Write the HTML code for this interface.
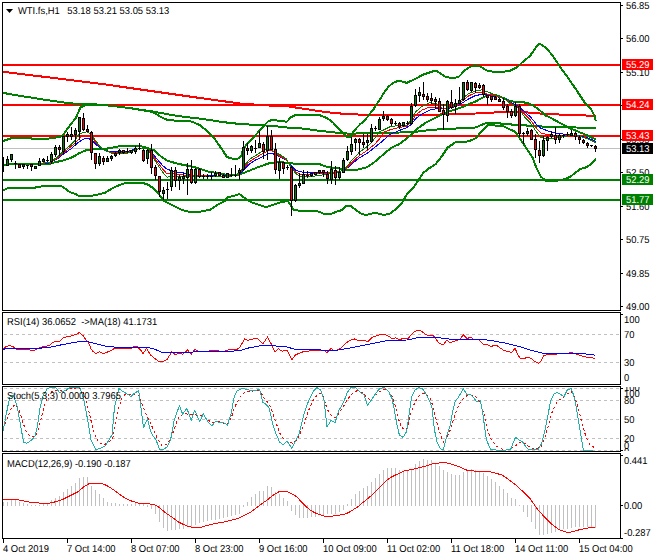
<!DOCTYPE html>
<html><head><meta charset="utf-8"><title>WTI.fs,H1</title>
<style>html,body{margin:0;padding:0;background:#fff;}svg{display:block}text{font-family:"Liberation Sans",sans-serif;font-size:10.0px;fill:#000;text-rendering:geometricPrecision}.w{fill:#fff}</style></head><body>
<svg width="660" height="560" viewBox="0 0 660 560">
<rect width="660" height="560" fill="#fff"/>
<defs><clipPath id="cm"><rect x="3" y="3" width="617" height="307"/></clipPath><clipPath id="cr"><rect x="3" y="313" width="617" height="71"/></clipPath><clipPath id="cs"><rect x="3" y="387" width="617" height="64"/></clipPath><clipPath id="cd"><rect x="3" y="454" width="617" height="84"/></clipPath><clipPath id="ca"><rect x="621" y="387" width="39" height="64"/></clipPath></defs>
<g clip-path="url(#cm)">
<g shape-rendering="crispEdges">
<rect x="3" y="148" width="617" height="1" fill="#c0c0c0"/>
<rect x="3" y="64" width="617" height="2" fill="#ff0000"/>
<rect x="3" y="104" width="617" height="2" fill="#ff0000"/>
<rect x="3" y="135" width="617" height="2" fill="#ff0000"/>
<rect x="3" y="179" width="617" height="2" fill="#008000"/>
<rect x="3" y="199" width="617" height="2" fill="#008000"/>
</g>
<polyline points="3,92.9 20,95.8 40,99 60,102 75,103.8 84,104.4 104,105 128.5,107.9 152.7,111.5 177,115.9 201,118.8 225.5,122.4 240,124 264.7,125.4 276.8,126.4 288,127.6 303,128.6 318,130.6 333.5,132.4 348.6,133.6 380,133.2 414,132 430,130 445,129 460,128.3 472,127.8 476,127.4 480,125.5 485,123.5 490,122.8 496,123 503,123.8 515,124.8 528,125.6 537,126.3 550,126.8 576,127.5 595.8,128" fill="none" stroke="#008000" stroke-width="2" stroke-linejoin="round" stroke-linecap="butt" shape-rendering="crispEdges"/>
<polyline points="3,71.8 80,81.2 100,83.7 160,92.3 200,98 240,103.5 265,105.3 288,106.4 303,108.6 318,111 333.5,112.9 348.6,114.2 363.8,114.7 388,115.2 440,114.5 476,113.5 491,112.9 498.7,111.9 521.5,112 544,113.8 561,114.6 582,115.3 595.8,116" fill="none" stroke="#ff0000" stroke-width="2" stroke-linejoin="round" stroke-linecap="butt" shape-rendering="crispEdges"/>
<polyline points="3,141 9,139 12,138 30,138 33,139 48,139 50,138 56,137.5 60,137 63,135.3 66.7,129.7 71.2,123.6 75.8,118.3 78,113 80.3,107.7 84.8,105.3 89.7,104 104,105 128.5,107.9 152.7,112 160,116.4 167.3,120 177,120.7 186.7,120.9 192,121.6 199.6,125 207,131 214.7,138.8 222,149.4 227,157 232,158.6 237.5,158.8 241,156.5 243.5,148.5 248.5,142.3 254.8,136 261,129 266,123.5 268.5,121 273.5,119.8 282,121.4 287,121.6 291,117.3 295.6,115 318.3,114.7 327.4,118.2 333.5,123 339.5,129.8 343,133 346,136.5 348,137.5 350.5,137.3 352,135 353.8,131 360,124.4 365,120 370,113.8 373.8,108.8 377.5,103 380.5,98.5 384,92.7 388.5,86.7 393,82.9 399,80.6 406.7,82.9 414.3,79.4 423.4,74.5 432.5,71.5 437,71.2 441.6,74.2 446,77.3 453.5,77.9 458.5,77 461.5,74 464.5,70.4 470,66.8 475.5,65.5 481,66.8 486.4,70.4 494.5,72 502.7,72 511,70.4 517.7,66.8 521.8,62.7 530,56 535.5,48 539.5,43.6 545,47 551.8,54.5 560,66.8 568,77.7 576.4,90 584.5,102.3 591,108.8 593.4,113.7 595,117.7 595.8,121" fill="none" stroke="#008000" stroke-width="2" stroke-linejoin="round" stroke-linecap="butt" shape-rendering="crispEdges"/>
<polyline points="3,190.5 9,187.7 35,187.7 36.5,186.7 48.5,186.2 50,185.5 60.6,185.5 65,188.5 69.7,192 75.8,194.2 78.8,195.8 91,195.8 96,195 105,192.7 114,187.4 123,183.6 127,183 140,183 144,183.4 147.3,184.2 154.5,189 159.4,195 164.2,201.2 171.5,204.8 181.2,209.7 188.5,211.6 200.6,211.6 210.3,209.7 217.6,204.8 224.8,201.2 227.3,197.6 237,195 239.4,194 244.2,197.6 251.5,202.4 258.8,204.8 266,207.3 273.3,204.8 280.6,202.4 287.9,200.9 291,206 294,210 303,211.2 318.3,211.5 324.4,214 332,213.5 338,211.2 342.5,210 345.6,206 350,205.5 354.7,209 360.7,213.5 365.3,215 369.8,214.2 374.4,212.7 380.4,214.2 384,215 390,213.5 396,209 402,203 406.7,194.5 412.8,188.5 418.8,179.4 423.4,172.6 429.5,168 435.5,164.2 441.6,156.7 447.6,147.6 455.2,142.5 461.3,142.3 467.3,141.5 472,140 476,138 482,130.6 485,127.6 488,125.3 492,125 496,125.6 503.5,126.3 508.5,128.8 514.8,131.5 518.5,136.3 523.5,143.8 528.5,151.3 533,158.5 536.6,168.5 541,176.8 545.7,180.6 551.8,181.4 559.6,180.2 566,178.8 571,176.3 575.7,172.3 580.5,169 585.4,167.5 590.2,165 593.4,161.9 595.8,158.7" fill="none" stroke="#008000" stroke-width="2" stroke-linejoin="round" stroke-linecap="butt" shape-rendering="crispEdges"/>
<polyline points="3,165.5 10,164 50,164 52,163 65,160 73,157 79,153.3 85,150.6 91,149.6 104,149 111,148 120,146 130,145.6 140,145.9 147.5,148 153.6,150 161,156.4 167,160.5 175,163 182,164.6 192,166.6 201,169 207,171.4 216,172.9 222,174.4 231.4,174.8 239,174.8 242,173.6 249.6,170.6 257,167.6 264.7,164.8 270.8,162.7 276.8,162.3 283,162.3 289,163.2 292.5,163.5 318,163.5 322.8,165.5 327.4,167 333.5,168 339.5,168.5 342.5,169.5 348.6,170.3 354.7,170.3 360.7,168.8 366.8,167.3 372.8,163.5 379,158.2 385,152.9 391.6,147.6 399,144.3 406.7,138.6 414.3,132 418.8,127.6 426.4,122.3 434,118.5 440,115.5 444.6,113.2 450.7,111 456.7,109 462.8,107 468.8,104 475,101.8 482,98 488,95 495.7,95 503.3,98 509.3,101 515.4,101.8 521.5,102 527.5,103 533.6,105.6 539.6,110.2 545.7,115.5 551.8,118.5 559.6,122.7 569.3,128 579,132 585.4,134.6 595.8,139.4" fill="none" stroke="#008000" stroke-width="2" stroke-linejoin="round" stroke-linecap="butt" shape-rendering="crispEdges"/>
<polyline points="3.8,165.5 9,163.6 36,164 50,162.9 57.6,158.6 63.6,154 71,148.8 78.8,142 84.8,138.5 87.9,138.2 91,139.7 95.5,144.2 100.5,148 105,150 111,151.8 119,152 126,151.8 134,149.5 140,148.8 147.5,149 152,152.6 156.6,158.6 162.7,165.5 167,169.2 171.8,170.8 177.8,172.3 187,173.3 192,175.2 201,175.5 211.7,175.9 222,176.2 231.4,175.5 239,174.4 243.5,169.8 249.6,163.8 255.6,160 261.7,157 267.8,154 271.5,153.2 275.3,154.7 279.9,157 286,160 291,165 295.6,170.3 303,172.3 312,172.6 318.3,172.6 327.4,173 335,172 341,171 345.6,169.5 351.6,164.2 358.8,158.2 366.8,153.6 374.4,147.6 382,141.5 390,134.4 399,130.6 406.7,127.6 411.3,124.5 415.8,118.5 421.9,114 429.5,110.2 437,108.6 444.6,108.6 450.7,107.9 456.7,106.4 462.8,102.6 468.8,98.8 475,95.8 482,94.2 488,95 495.7,96.5 503.3,98 510.8,102.6 518.4,106.4 524.5,111.7 530.5,117 536.6,124.5 541,128.3 547,130.6 554.8,132.9 563.9,134.2 569.3,134.6 579,135.7 587,137.8 593.4,140.2 595.8,141.5" fill="none" stroke="#0000ff" stroke-width="1" stroke-linejoin="round" stroke-linecap="butt" shape-rendering="crispEdges"/>
<polyline points="3.8,165.5 9,163.6 36,164 50,162.5 57.6,157.9 63.6,152.6 71.2,146.5 77.3,140.5 81.8,136.4 87,135.2 91,136.7 95.5,142 100.5,147.6 105,150.2 111,152.4 119,153 126,152.7 134,150 140,148.6 147.5,149 152,154 156.6,161 162.7,169.2 167,173.8 171.8,173 177.8,174.5 187,175.3 196,175.3 211.7,176.3 222,176.5 231.4,175.7 239,174 243.5,168.3 249.6,161.5 255.6,157.7 261.7,154.2 267.8,151 271.5,150.2 275.3,153.2 279.9,156.2 286,159.2 291,166.5 295.6,172 300,174 307.7,174.5 318.3,173.3 327.4,173 335,172.6 341,171 345.6,168.8 351.6,162.7 358.8,156 366.8,150.6 374.4,144.5 379,139.5 384,132 390,129.8 399,127.6 406.7,126 411.3,122.3 415.8,114.7 421.9,110.2 429.5,107 437,107 444.6,108.6 450.7,107 456.7,105.6 462.8,100.3 468.8,95.8 475,93 482,92.7 488,94.2 495.7,96 503.3,98 510.8,103.3 518.4,107 524.5,114 530.5,120 536.6,128.3 541,132.9 547,134.4 554.8,135.2 563.9,135.2 570,134.6 579,135.9 587,138.5 595.8,142.5" fill="none" stroke="#ff0000" stroke-width="1" stroke-linejoin="round" stroke-linecap="butt" shape-rendering="crispEdges"/>
<polyline points="3.8,165.5 9,163.6 36,164 50,162 57.6,157 63.6,151 69.7,145.8 74.2,141.2 78.8,134.4 82.6,132.9 87,131.8 91,134.4 95.5,140.5 100.5,147.3 105,150.3 111,153 119,154 126,153.6 134,150.3 140,148.5 147.5,148.8 152,155.6 156.6,163.2 162.7,172.3 167,177.3 171.8,176 177.8,176 187,176.4 196,176 211.7,176.8 222,176.8 231.4,176 239,173.5 243.5,166.8 249.6,159.2 255.6,155.5 261.7,151.7 267.8,148.6 271.5,149.7 275.3,152.4 279.9,154.7 286,158.5 291,167.3 295.6,173.3 300,176.4 307.7,177 318.3,175.6 327.4,174 335,173 341,171 345.6,168 351.6,160.5 358.8,152.9 366.8,146.8 371.3,143 379,132 384,129.8 390,126.8 399,125.3 406.7,125.3 411.3,120 415.8,111.7 421.9,106.4 429.5,102.6 437,104 441.6,105.6 450.7,106.4 456.7,104 462.8,98 468.8,93.5 475,91.2 482,89.7 488,92 495.7,95 503.3,98 510.8,104 518.4,107.9 524.5,117 530.5,123 536.6,132 541,137.4 547,139 554.8,138.2 563.9,136.7 570,135.2 579,136 587,138.6 595.8,142.6" fill="none" stroke="#008000" stroke-width="1" stroke-linejoin="round" stroke-linecap="butt" shape-rendering="crispEdges"/>
<g shape-rendering="crispEdges">
<rect x="3" y="157" width="1" height="15" fill="#000"/>
<rect x="7" y="156" width="1" height="10" fill="#000"/>
<rect x="6" y="159" width="3" height="7" fill="#000"/>
<rect x="7" y="160" width="1" height="5" fill="#008000"/>
<rect x="11" y="154" width="1" height="8" fill="#000"/>
<rect x="10" y="154" width="3" height="6" fill="#000"/>
<rect x="11" y="155" width="1" height="4" fill="#008000"/>
<rect x="15" y="161" width="1" height="8" fill="#000"/>
<rect x="14" y="163" width="3" height="1" fill="#000"/>
<rect x="19" y="164" width="1" height="4" fill="#000"/>
<rect x="18" y="164" width="3" height="4" fill="#000"/>
<rect x="19" y="165" width="1" height="2" fill="#ff0000"/>
<rect x="23" y="164" width="1" height="5" fill="#000"/>
<rect x="22" y="164" width="3" height="3" fill="#000"/>
<rect x="23" y="165" width="1" height="1" fill="#008000"/>
<rect x="27" y="165" width="1" height="4" fill="#000"/>
<rect x="26" y="165" width="3" height="1" fill="#000"/>
<rect x="31" y="164" width="1" height="7" fill="#000"/>
<rect x="30" y="164" width="3" height="3" fill="#000"/>
<rect x="31" y="165" width="1" height="1" fill="#ff0000"/>
<rect x="35" y="166" width="1" height="3" fill="#000"/>
<rect x="34" y="166" width="3" height="3" fill="#000"/>
<rect x="35" y="167" width="1" height="1" fill="#008000"/>
<rect x="39" y="158" width="1" height="8" fill="#000"/>
<rect x="38" y="161" width="3" height="5" fill="#000"/>
<rect x="39" y="162" width="1" height="3" fill="#008000"/>
<rect x="43" y="158" width="1" height="4" fill="#000"/>
<rect x="42" y="159" width="3" height="3" fill="#000"/>
<rect x="43" y="160" width="1" height="1" fill="#008000"/>
<rect x="47" y="156" width="1" height="6" fill="#000"/>
<rect x="46" y="160" width="3" height="1" fill="#000"/>
<rect x="51" y="152" width="1" height="12" fill="#000"/>
<rect x="50" y="154" width="3" height="8" fill="#000"/>
<rect x="51" y="155" width="1" height="6" fill="#008000"/>
<rect x="55" y="145" width="1" height="12" fill="#000"/>
<rect x="54" y="147" width="3" height="8" fill="#000"/>
<rect x="55" y="148" width="1" height="6" fill="#008000"/>
<rect x="59" y="145" width="1" height="11" fill="#000"/>
<rect x="58" y="147" width="3" height="3" fill="#000"/>
<rect x="59" y="148" width="1" height="1" fill="#ff0000"/>
<rect x="63" y="136" width="1" height="18" fill="#000"/>
<rect x="62" y="136" width="3" height="16" fill="#000"/>
<rect x="63" y="137" width="1" height="14" fill="#008000"/>
<rect x="67" y="132" width="1" height="10" fill="#000"/>
<rect x="66" y="134" width="3" height="3" fill="#000"/>
<rect x="67" y="135" width="1" height="1" fill="#008000"/>
<rect x="71" y="127" width="1" height="13" fill="#000"/>
<rect x="70" y="134" width="3" height="3" fill="#000"/>
<rect x="71" y="135" width="1" height="1" fill="#008000"/>
<rect x="75" y="128" width="1" height="18" fill="#000"/>
<rect x="74" y="130" width="3" height="5" fill="#000"/>
<rect x="75" y="131" width="1" height="3" fill="#008000"/>
<rect x="79" y="117" width="1" height="23" fill="#000"/>
<rect x="78" y="117" width="3" height="15" fill="#000"/>
<rect x="79" y="118" width="1" height="13" fill="#008000"/>
<rect x="83" y="113" width="1" height="18" fill="#000"/>
<rect x="82" y="118" width="3" height="12" fill="#000"/>
<rect x="83" y="119" width="1" height="10" fill="#ff0000"/>
<rect x="87" y="125" width="1" height="7" fill="#000"/>
<rect x="86" y="129" width="3" height="3" fill="#000"/>
<rect x="87" y="130" width="1" height="1" fill="#ff0000"/>
<rect x="91" y="131" width="1" height="29" fill="#000"/>
<rect x="90" y="132" width="3" height="21" fill="#000"/>
<rect x="91" y="133" width="1" height="19" fill="#ff0000"/>
<rect x="95" y="153" width="1" height="16" fill="#000"/>
<rect x="94" y="153" width="3" height="11" fill="#000"/>
<rect x="95" y="154" width="1" height="9" fill="#ff0000"/>
<rect x="99" y="153" width="1" height="13" fill="#000"/>
<rect x="98" y="156" width="3" height="8" fill="#000"/>
<rect x="99" y="157" width="1" height="6" fill="#008000"/>
<rect x="103" y="156" width="1" height="9" fill="#000"/>
<rect x="102" y="158" width="3" height="4" fill="#000"/>
<rect x="103" y="159" width="1" height="2" fill="#ff0000"/>
<rect x="107" y="156" width="1" height="6" fill="#000"/>
<rect x="106" y="158" width="3" height="4" fill="#000"/>
<rect x="107" y="159" width="1" height="2" fill="#008000"/>
<rect x="111" y="155" width="1" height="6" fill="#000"/>
<rect x="110" y="156" width="3" height="3" fill="#000"/>
<rect x="111" y="157" width="1" height="1" fill="#008000"/>
<rect x="115" y="152" width="1" height="5" fill="#000"/>
<rect x="114" y="153" width="3" height="3" fill="#000"/>
<rect x="115" y="154" width="1" height="1" fill="#008000"/>
<rect x="119" y="149" width="1" height="6" fill="#000"/>
<rect x="118" y="150" width="3" height="3" fill="#000"/>
<rect x="119" y="151" width="1" height="1" fill="#008000"/>
<rect x="123" y="150" width="1" height="4" fill="#000"/>
<rect x="122" y="150" width="3" height="3" fill="#000"/>
<rect x="123" y="151" width="1" height="1" fill="#ff0000"/>
<rect x="127" y="148" width="1" height="5" fill="#000"/>
<rect x="126" y="151" width="3" height="1" fill="#000"/>
<rect x="131" y="150" width="1" height="4" fill="#000"/>
<rect x="130" y="150" width="3" height="3" fill="#000"/>
<rect x="131" y="151" width="1" height="1" fill="#008000"/>
<rect x="135" y="146" width="1" height="8" fill="#000"/>
<rect x="134" y="148" width="3" height="4" fill="#000"/>
<rect x="135" y="149" width="1" height="2" fill="#008000"/>
<rect x="139" y="143" width="1" height="7" fill="#000"/>
<rect x="138" y="148" width="3" height="1" fill="#000"/>
<rect x="143" y="149" width="1" height="13" fill="#000"/>
<rect x="142" y="150" width="3" height="11" fill="#000"/>
<rect x="143" y="151" width="1" height="9" fill="#ff0000"/>
<rect x="147" y="149" width="1" height="15" fill="#000"/>
<rect x="146" y="150" width="3" height="9" fill="#000"/>
<rect x="147" y="151" width="1" height="7" fill="#008000"/>
<rect x="151" y="144" width="1" height="30" fill="#000"/>
<rect x="150" y="150" width="3" height="18" fill="#000"/>
<rect x="151" y="151" width="1" height="16" fill="#ff0000"/>
<rect x="155" y="165" width="1" height="15" fill="#000"/>
<rect x="154" y="167" width="3" height="9" fill="#000"/>
<rect x="155" y="168" width="1" height="7" fill="#ff0000"/>
<rect x="159" y="176" width="1" height="21" fill="#000"/>
<rect x="158" y="176" width="3" height="16" fill="#000"/>
<rect x="159" y="177" width="1" height="14" fill="#ff0000"/>
<rect x="163" y="187" width="1" height="13" fill="#000"/>
<rect x="162" y="190" width="3" height="4" fill="#000"/>
<rect x="163" y="191" width="1" height="2" fill="#008000"/>
<rect x="167" y="182" width="1" height="17" fill="#000"/>
<rect x="166" y="189" width="3" height="1" fill="#000"/>
<rect x="171" y="167" width="1" height="24" fill="#000"/>
<rect x="170" y="170" width="3" height="17" fill="#000"/>
<rect x="171" y="171" width="1" height="15" fill="#008000"/>
<rect x="175" y="167" width="1" height="20" fill="#000"/>
<rect x="174" y="170" width="3" height="11" fill="#000"/>
<rect x="175" y="171" width="1" height="9" fill="#ff0000"/>
<rect x="179" y="175" width="1" height="15" fill="#000"/>
<rect x="178" y="177" width="3" height="4" fill="#000"/>
<rect x="179" y="178" width="1" height="2" fill="#008000"/>
<rect x="183" y="173" width="1" height="11" fill="#000"/>
<rect x="182" y="176" width="3" height="3" fill="#000"/>
<rect x="183" y="177" width="1" height="1" fill="#008000"/>
<rect x="187" y="163" width="1" height="32" fill="#000"/>
<rect x="186" y="169" width="3" height="9" fill="#000"/>
<rect x="187" y="170" width="1" height="7" fill="#008000"/>
<rect x="191" y="160" width="1" height="24" fill="#000"/>
<rect x="190" y="169" width="3" height="14" fill="#000"/>
<rect x="191" y="170" width="1" height="12" fill="#ff0000"/>
<rect x="195" y="168" width="1" height="16" fill="#000"/>
<rect x="194" y="169" width="3" height="14" fill="#000"/>
<rect x="195" y="170" width="1" height="12" fill="#008000"/>
<rect x="199" y="168" width="1" height="10" fill="#000"/>
<rect x="198" y="169" width="3" height="8" fill="#000"/>
<rect x="199" y="170" width="1" height="6" fill="#ff0000"/>
<rect x="203" y="174" width="1" height="5" fill="#000"/>
<rect x="202" y="176" width="3" height="1" fill="#000"/>
<rect x="207" y="174" width="1" height="5" fill="#000"/>
<rect x="206" y="176" width="3" height="1" fill="#000"/>
<rect x="211" y="172" width="1" height="8" fill="#000"/>
<rect x="210" y="176" width="3" height="1" fill="#000"/>
<rect x="215" y="171" width="1" height="6" fill="#000"/>
<rect x="214" y="173" width="3" height="3" fill="#000"/>
<rect x="215" y="174" width="1" height="1" fill="#008000"/>
<rect x="219" y="172" width="1" height="4" fill="#000"/>
<rect x="218" y="172" width="3" height="4" fill="#000"/>
<rect x="219" y="173" width="1" height="2" fill="#ff0000"/>
<rect x="223" y="174" width="1" height="4" fill="#000"/>
<rect x="222" y="175" width="3" height="3" fill="#000"/>
<rect x="223" y="176" width="1" height="1" fill="#ff0000"/>
<rect x="227" y="173" width="1" height="5" fill="#000"/>
<rect x="226" y="173" width="3" height="5" fill="#000"/>
<rect x="227" y="174" width="1" height="3" fill="#008000"/>
<rect x="231" y="168" width="1" height="9" fill="#000"/>
<rect x="230" y="175" width="3" height="1" fill="#000"/>
<rect x="235" y="165" width="1" height="12" fill="#000"/>
<rect x="234" y="175" width="3" height="1" fill="#000"/>
<rect x="239" y="168" width="1" height="12" fill="#000"/>
<rect x="238" y="170" width="3" height="3" fill="#000"/>
<rect x="239" y="171" width="1" height="1" fill="#008000"/>
<rect x="243" y="141" width="1" height="30" fill="#000"/>
<rect x="242" y="147" width="3" height="23" fill="#000"/>
<rect x="243" y="148" width="1" height="21" fill="#008000"/>
<rect x="247" y="143" width="1" height="12" fill="#000"/>
<rect x="246" y="148" width="3" height="3" fill="#000"/>
<rect x="247" y="149" width="1" height="1" fill="#ff0000"/>
<rect x="251" y="145" width="1" height="8" fill="#000"/>
<rect x="250" y="146" width="3" height="5" fill="#000"/>
<rect x="251" y="147" width="1" height="3" fill="#008000"/>
<rect x="255" y="140" width="1" height="13" fill="#000"/>
<rect x="254" y="148" width="3" height="1" fill="#000"/>
<rect x="259" y="131" width="1" height="17" fill="#000"/>
<rect x="258" y="143" width="3" height="5" fill="#000"/>
<rect x="259" y="144" width="1" height="3" fill="#008000"/>
<rect x="263" y="142" width="1" height="17" fill="#000"/>
<rect x="262" y="144" width="3" height="8" fill="#000"/>
<rect x="263" y="145" width="1" height="6" fill="#ff0000"/>
<rect x="267" y="126" width="1" height="34" fill="#000"/>
<rect x="266" y="136" width="3" height="15" fill="#000"/>
<rect x="267" y="137" width="1" height="13" fill="#008000"/>
<rect x="271" y="130" width="1" height="20" fill="#000"/>
<rect x="270" y="136" width="3" height="14" fill="#000"/>
<rect x="271" y="137" width="1" height="12" fill="#ff0000"/>
<rect x="275" y="143" width="1" height="31" fill="#000"/>
<rect x="274" y="149" width="3" height="21" fill="#000"/>
<rect x="275" y="150" width="1" height="19" fill="#ff0000"/>
<rect x="279" y="158" width="1" height="21" fill="#000"/>
<rect x="278" y="162" width="3" height="9" fill="#000"/>
<rect x="279" y="163" width="1" height="7" fill="#008000"/>
<rect x="283" y="162" width="1" height="12" fill="#000"/>
<rect x="282" y="162" width="3" height="7" fill="#000"/>
<rect x="283" y="163" width="1" height="5" fill="#ff0000"/>
<rect x="287" y="165" width="1" height="5" fill="#000"/>
<rect x="286" y="167" width="3" height="1" fill="#000"/>
<rect x="291" y="166" width="1" height="50" fill="#000"/>
<rect x="290" y="167" width="3" height="34" fill="#000"/>
<rect x="291" y="168" width="1" height="32" fill="#ff0000"/>
<rect x="295" y="184" width="1" height="18" fill="#000"/>
<rect x="294" y="185" width="3" height="16" fill="#000"/>
<rect x="295" y="186" width="1" height="14" fill="#008000"/>
<rect x="299" y="173" width="1" height="15" fill="#000"/>
<rect x="298" y="183" width="3" height="3" fill="#000"/>
<rect x="299" y="184" width="1" height="1" fill="#008000"/>
<rect x="303" y="170" width="1" height="14" fill="#000"/>
<rect x="302" y="174" width="3" height="10" fill="#000"/>
<rect x="303" y="175" width="1" height="8" fill="#008000"/>
<rect x="307" y="171" width="1" height="7" fill="#000"/>
<rect x="306" y="175" width="3" height="1" fill="#000"/>
<rect x="311" y="173" width="1" height="4" fill="#000"/>
<rect x="310" y="173" width="3" height="3" fill="#000"/>
<rect x="311" y="174" width="1" height="1" fill="#008000"/>
<rect x="315" y="172" width="1" height="3" fill="#000"/>
<rect x="314" y="172" width="3" height="3" fill="#000"/>
<rect x="315" y="173" width="1" height="1" fill="#ff0000"/>
<rect x="319" y="170" width="1" height="4" fill="#000"/>
<rect x="318" y="170" width="3" height="3" fill="#000"/>
<rect x="319" y="171" width="1" height="1" fill="#008000"/>
<rect x="323" y="170" width="1" height="7" fill="#000"/>
<rect x="322" y="170" width="3" height="3" fill="#000"/>
<rect x="323" y="171" width="1" height="1" fill="#ff0000"/>
<rect x="327" y="171" width="1" height="13" fill="#000"/>
<rect x="326" y="174" width="3" height="5" fill="#000"/>
<rect x="327" y="175" width="1" height="3" fill="#ff0000"/>
<rect x="331" y="161" width="1" height="23" fill="#000"/>
<rect x="330" y="169" width="3" height="11" fill="#000"/>
<rect x="331" y="170" width="1" height="9" fill="#008000"/>
<rect x="335" y="166" width="1" height="19" fill="#000"/>
<rect x="334" y="170" width="3" height="8" fill="#000"/>
<rect x="335" y="171" width="1" height="6" fill="#ff0000"/>
<rect x="339" y="167" width="1" height="13" fill="#000"/>
<rect x="338" y="172" width="3" height="6" fill="#000"/>
<rect x="339" y="173" width="1" height="4" fill="#008000"/>
<rect x="343" y="158" width="1" height="15" fill="#000"/>
<rect x="342" y="160" width="3" height="13" fill="#000"/>
<rect x="343" y="161" width="1" height="11" fill="#008000"/>
<rect x="347" y="146" width="1" height="15" fill="#000"/>
<rect x="346" y="151" width="3" height="9" fill="#000"/>
<rect x="347" y="152" width="1" height="7" fill="#008000"/>
<rect x="351" y="137" width="1" height="18" fill="#000"/>
<rect x="350" y="144" width="3" height="8" fill="#000"/>
<rect x="351" y="145" width="1" height="6" fill="#008000"/>
<rect x="355" y="138" width="1" height="13" fill="#000"/>
<rect x="354" y="139" width="3" height="4" fill="#000"/>
<rect x="355" y="140" width="1" height="2" fill="#008000"/>
<rect x="359" y="138" width="1" height="17" fill="#000"/>
<rect x="358" y="139" width="3" height="4" fill="#000"/>
<rect x="359" y="140" width="1" height="2" fill="#ff0000"/>
<rect x="363" y="134" width="1" height="14" fill="#000"/>
<rect x="362" y="142" width="3" height="3" fill="#000"/>
<rect x="363" y="143" width="1" height="1" fill="#ff0000"/>
<rect x="367" y="134" width="1" height="16" fill="#000"/>
<rect x="366" y="140" width="3" height="3" fill="#000"/>
<rect x="367" y="141" width="1" height="1" fill="#008000"/>
<rect x="371" y="124" width="1" height="19" fill="#000"/>
<rect x="370" y="128" width="3" height="14" fill="#000"/>
<rect x="371" y="129" width="1" height="12" fill="#008000"/>
<rect x="375" y="126" width="1" height="5" fill="#000"/>
<rect x="374" y="128" width="3" height="1" fill="#000"/>
<rect x="379" y="117" width="1" height="13" fill="#000"/>
<rect x="378" y="119" width="3" height="11" fill="#000"/>
<rect x="379" y="120" width="1" height="9" fill="#008000"/>
<rect x="383" y="111" width="1" height="10" fill="#000"/>
<rect x="382" y="116" width="3" height="3" fill="#000"/>
<rect x="383" y="117" width="1" height="1" fill="#008000"/>
<rect x="387" y="115" width="1" height="6" fill="#000"/>
<rect x="386" y="116" width="3" height="4" fill="#000"/>
<rect x="387" y="117" width="1" height="2" fill="#ff0000"/>
<rect x="391" y="118" width="1" height="8" fill="#000"/>
<rect x="390" y="119" width="3" height="5" fill="#000"/>
<rect x="391" y="120" width="1" height="3" fill="#ff0000"/>
<rect x="395" y="121" width="1" height="4" fill="#000"/>
<rect x="394" y="123" width="3" height="1" fill="#000"/>
<rect x="399" y="122" width="1" height="7" fill="#000"/>
<rect x="398" y="123" width="3" height="4" fill="#000"/>
<rect x="399" y="124" width="1" height="2" fill="#ff0000"/>
<rect x="403" y="122" width="1" height="5" fill="#000"/>
<rect x="402" y="122" width="3" height="4" fill="#000"/>
<rect x="403" y="123" width="1" height="2" fill="#008000"/>
<rect x="407" y="121" width="1" height="4" fill="#000"/>
<rect x="406" y="123" width="3" height="1" fill="#000"/>
<rect x="411" y="103" width="1" height="22" fill="#000"/>
<rect x="410" y="106" width="3" height="18" fill="#000"/>
<rect x="411" y="107" width="1" height="16" fill="#008000"/>
<rect x="415" y="89" width="1" height="18" fill="#000"/>
<rect x="414" y="95" width="3" height="11" fill="#000"/>
<rect x="415" y="96" width="1" height="9" fill="#008000"/>
<rect x="419" y="87" width="1" height="15" fill="#000"/>
<rect x="418" y="92" width="3" height="4" fill="#000"/>
<rect x="419" y="93" width="1" height="2" fill="#008000"/>
<rect x="423" y="82" width="1" height="18" fill="#000"/>
<rect x="422" y="94" width="3" height="3" fill="#000"/>
<rect x="423" y="95" width="1" height="1" fill="#ff0000"/>
<rect x="427" y="93" width="1" height="9" fill="#000"/>
<rect x="426" y="96" width="3" height="4" fill="#000"/>
<rect x="427" y="97" width="1" height="2" fill="#ff0000"/>
<rect x="431" y="93" width="1" height="11" fill="#000"/>
<rect x="430" y="98" width="3" height="3" fill="#000"/>
<rect x="431" y="99" width="1" height="1" fill="#ff0000"/>
<rect x="435" y="97" width="1" height="12" fill="#000"/>
<rect x="434" y="99" width="3" height="3" fill="#000"/>
<rect x="435" y="100" width="1" height="1" fill="#ff0000"/>
<rect x="439" y="98" width="1" height="14" fill="#000"/>
<rect x="438" y="101" width="3" height="11" fill="#000"/>
<rect x="439" y="102" width="1" height="9" fill="#ff0000"/>
<rect x="443" y="104" width="1" height="26" fill="#000"/>
<rect x="442" y="110" width="3" height="5" fill="#000"/>
<rect x="443" y="111" width="1" height="3" fill="#ff0000"/>
<rect x="447" y="100" width="1" height="22" fill="#000"/>
<rect x="446" y="101" width="3" height="15" fill="#000"/>
<rect x="447" y="102" width="1" height="13" fill="#008000"/>
<rect x="451" y="90" width="1" height="19" fill="#000"/>
<rect x="450" y="102" width="3" height="6" fill="#000"/>
<rect x="451" y="103" width="1" height="4" fill="#ff0000"/>
<rect x="455" y="99" width="1" height="15" fill="#000"/>
<rect x="454" y="103" width="3" height="4" fill="#000"/>
<rect x="455" y="104" width="1" height="2" fill="#008000"/>
<rect x="459" y="87" width="1" height="17" fill="#000"/>
<rect x="458" y="100" width="3" height="4" fill="#000"/>
<rect x="459" y="101" width="1" height="2" fill="#008000"/>
<rect x="463" y="82" width="1" height="19" fill="#000"/>
<rect x="462" y="82" width="3" height="18" fill="#000"/>
<rect x="463" y="83" width="1" height="16" fill="#008000"/>
<rect x="467" y="80" width="1" height="11" fill="#000"/>
<rect x="466" y="82" width="3" height="8" fill="#000"/>
<rect x="467" y="83" width="1" height="6" fill="#ff0000"/>
<rect x="471" y="82" width="1" height="10" fill="#000"/>
<rect x="470" y="82" width="3" height="9" fill="#000"/>
<rect x="471" y="83" width="1" height="7" fill="#008000"/>
<rect x="475" y="82" width="1" height="11" fill="#000"/>
<rect x="474" y="83" width="3" height="5" fill="#000"/>
<rect x="475" y="84" width="1" height="3" fill="#ff0000"/>
<rect x="479" y="83" width="1" height="6" fill="#000"/>
<rect x="478" y="85" width="3" height="3" fill="#000"/>
<rect x="479" y="86" width="1" height="1" fill="#ff0000"/>
<rect x="483" y="84" width="1" height="13" fill="#000"/>
<rect x="482" y="85" width="3" height="10" fill="#000"/>
<rect x="483" y="86" width="1" height="8" fill="#ff0000"/>
<rect x="487" y="95" width="1" height="10" fill="#000"/>
<rect x="486" y="95" width="3" height="3" fill="#000"/>
<rect x="487" y="96" width="1" height="1" fill="#ff0000"/>
<rect x="491" y="96" width="1" height="6" fill="#000"/>
<rect x="490" y="96" width="3" height="4" fill="#000"/>
<rect x="491" y="97" width="1" height="2" fill="#ff0000"/>
<rect x="495" y="96" width="1" height="4" fill="#000"/>
<rect x="494" y="97" width="3" height="3" fill="#000"/>
<rect x="495" y="98" width="1" height="1" fill="#ff0000"/>
<rect x="499" y="98" width="1" height="4" fill="#000"/>
<rect x="498" y="99" width="3" height="3" fill="#000"/>
<rect x="499" y="100" width="1" height="1" fill="#ff0000"/>
<rect x="503" y="98" width="1" height="12" fill="#000"/>
<rect x="502" y="101" width="3" height="7" fill="#000"/>
<rect x="503" y="102" width="1" height="5" fill="#ff0000"/>
<rect x="507" y="104" width="1" height="14" fill="#000"/>
<rect x="506" y="106" width="3" height="6" fill="#000"/>
<rect x="507" y="107" width="1" height="4" fill="#ff0000"/>
<rect x="511" y="109" width="1" height="9" fill="#000"/>
<rect x="510" y="111" width="3" height="5" fill="#000"/>
<rect x="511" y="112" width="1" height="3" fill="#ff0000"/>
<rect x="515" y="102" width="1" height="15" fill="#000"/>
<rect x="514" y="106" width="3" height="10" fill="#000"/>
<rect x="515" y="107" width="1" height="8" fill="#008000"/>
<rect x="519" y="104" width="1" height="33" fill="#000"/>
<rect x="518" y="106" width="3" height="28" fill="#000"/>
<rect x="519" y="107" width="1" height="26" fill="#ff0000"/>
<rect x="523" y="132" width="1" height="12" fill="#000"/>
<rect x="522" y="133" width="3" height="1" fill="#000"/>
<rect x="527" y="128" width="1" height="8" fill="#000"/>
<rect x="526" y="131" width="3" height="3" fill="#000"/>
<rect x="527" y="132" width="1" height="1" fill="#008000"/>
<rect x="531" y="129" width="1" height="11" fill="#000"/>
<rect x="530" y="130" width="3" height="10" fill="#000"/>
<rect x="531" y="131" width="1" height="8" fill="#ff0000"/>
<rect x="535" y="134" width="1" height="24" fill="#000"/>
<rect x="534" y="139" width="3" height="11" fill="#000"/>
<rect x="535" y="140" width="1" height="9" fill="#ff0000"/>
<rect x="539" y="141" width="1" height="22" fill="#000"/>
<rect x="538" y="150" width="3" height="6" fill="#000"/>
<rect x="539" y="151" width="1" height="4" fill="#ff0000"/>
<rect x="543" y="136" width="1" height="21" fill="#000"/>
<rect x="542" y="140" width="3" height="16" fill="#000"/>
<rect x="543" y="141" width="1" height="14" fill="#008000"/>
<rect x="547" y="136" width="1" height="15" fill="#000"/>
<rect x="546" y="137" width="3" height="4" fill="#000"/>
<rect x="547" y="138" width="1" height="2" fill="#008000"/>
<rect x="551" y="131" width="1" height="7" fill="#000"/>
<rect x="550" y="134" width="3" height="3" fill="#000"/>
<rect x="551" y="135" width="1" height="1" fill="#008000"/>
<rect x="555" y="127" width="1" height="17" fill="#000"/>
<rect x="554" y="135" width="3" height="5" fill="#000"/>
<rect x="555" y="136" width="1" height="3" fill="#ff0000"/>
<rect x="559" y="134" width="1" height="9" fill="#000"/>
<rect x="558" y="135" width="3" height="5" fill="#000"/>
<rect x="559" y="136" width="1" height="3" fill="#008000"/>
<rect x="563" y="134" width="1" height="4" fill="#000"/>
<rect x="562" y="135" width="3" height="1" fill="#000"/>
<rect x="567" y="132" width="1" height="4" fill="#000"/>
<rect x="566" y="134" width="3" height="1" fill="#000"/>
<rect x="571" y="130" width="1" height="6" fill="#000"/>
<rect x="570" y="133" width="3" height="3" fill="#000"/>
<rect x="571" y="134" width="1" height="1" fill="#008000"/>
<rect x="575" y="132" width="1" height="8" fill="#000"/>
<rect x="574" y="133" width="3" height="4" fill="#000"/>
<rect x="575" y="134" width="1" height="2" fill="#ff0000"/>
<rect x="579" y="136" width="1" height="8" fill="#000"/>
<rect x="578" y="137" width="3" height="3" fill="#000"/>
<rect x="579" y="138" width="1" height="1" fill="#ff0000"/>
<rect x="583" y="139" width="1" height="5" fill="#000"/>
<rect x="582" y="140" width="3" height="3" fill="#000"/>
<rect x="583" y="141" width="1" height="1" fill="#ff0000"/>
<rect x="587" y="142" width="1" height="6" fill="#000"/>
<rect x="586" y="143" width="3" height="3" fill="#000"/>
<rect x="587" y="144" width="1" height="1" fill="#ff0000"/>
<rect x="591" y="145" width="1" height="2" fill="#000"/>
<rect x="590" y="145" width="3" height="1" fill="#000"/>
<rect x="595" y="145" width="1" height="7" fill="#000"/>
<rect x="594" y="146" width="3" height="3" fill="#000"/>
<rect x="595" y="147" width="1" height="1" fill="#ff0000"/>
</g>
</g>
<g clip-path="url(#cr)">
<line x1="4" y1="334.5" x2="620" y2="334.5" stroke="#c0c0c0" stroke-width="1" stroke-dasharray="3,3" shape-rendering="crispEdges"/>
<line x1="4" y1="362.5" x2="620" y2="362.5" stroke="#c0c0c0" stroke-width="1" stroke-dasharray="3,3" shape-rendering="crispEdges"/>
<polyline points="2.4,348.8 6,346.8 9.7,345.6 13.3,346.8 17,349.3 20.6,350 24.2,349.3 27.9,349.5 31.5,350.5 35,350 38.8,348.3 42.4,346.8 46,346.4 49.7,345 53.3,342.2 56.2,341 59.4,342 63,337.9 66.7,336.7 70.3,336.2 74,335 77,334.2 79.3,332.3 81.2,334.2 83.6,336.2 86,340.3 88.5,342.7 91,348.8 93.3,351.7 95.8,353.6 99.4,351.7 103,353.6 106.7,352.4 110.3,350.7 115,348.3 121,348.3 131,348.3 134.5,346.4 137,346.4 140.6,350 143,353.6 146.7,348.3 150.3,354.8 154.8,358.5 159.7,362 163.3,361.4 167,359.7 171.8,351.7 175.5,354.8 179,353 182.7,354.4 187.6,350 191.2,354.4 194.8,349.3 198.5,351.7 205.8,351.7 213,350 220.3,351.2 225,351.2 230,349.3 236,350 239.7,347.6 244.5,339 248.2,340.3 253,339 257.9,338.6 262.7,344 267.6,337 271.2,344 274.8,351.7 278.5,348.8 282,351.2 287,350 291.8,359.7 295.5,354.8 302.7,351.9 307.3,351.2 317,350 323,350 327,352.4 331,348.3 335,351.2 340,348.8 344.8,344 349.7,340.3 354.5,339 359.4,341 364.2,340.3 367.9,341.5 372.7,337 377.6,335.5 381.2,334.2 384.8,334.2 388.5,336.2 392,338.6 395.8,337.9 399.4,339.6 403,338.6 407.9,339 411.5,334.2 415,331.3 418.8,330 422.4,331.8 426,334.7 429.7,335.5 433.3,335.5 435.8,339 439.4,343.5 443,345 446.7,340.3 450.3,342.7 454.8,341 459.7,339.6 463.3,334.7 467,338.6 470.6,337.2 474.2,339.6 477.9,339 482.7,344 487.6,345 491.2,346.4 496,345 499.7,347.6 503.3,350 508.2,351.7 511.8,352.4 515,348.3 517.9,354.8 520.3,358.5 524,358.5 527.6,357.3 531.2,358.5 534.8,361.4 538.5,363.3 541,361 543.3,356 547,354.8 551.8,354 555.5,354.8 557.9,353.6 564,353.6 568.8,353 571.2,352.4 574.8,353.6 578.5,354.8 582,356 587,357.3 593,357.8 595,359" fill="none" stroke="#ff0000" stroke-width="1" stroke-linejoin="round" stroke-linecap="butt" shape-rendering="crispEdges"/>
<polyline points="2.4,349.3 9.7,348.3 24.2,348.8 36.4,348.3 48.5,347.6 60.6,345 72.7,342.7 80,341.5 87.3,341.5 97,344 106.7,346.4 121,347.6 135.8,347.6 148,347.6 154.8,349.3 162,352.4 174,353 186.4,352.4 198.5,351.7 222.7,351.7 239.7,350.7 247,348.3 256.7,346.4 264,345 271.2,345 278.5,346.4 285.8,346.8 295.5,349.3 312,349.5 324,350.2 338.8,350 348.5,348.3 360.6,345.9 372.7,343.5 384.8,341 397,340.3 406.7,340 414,338.6 418.8,337.4 426,337.2 435.8,337.4 445.5,338.6 455,339.8 462,339.6 474.2,339 484,339.6 493.6,341 503.3,342.7 513,345 520.3,346.8 527.6,349.3 534.8,351.2 542,353 551.8,353.6 564,353.6 576,353.6 585.8,354 593,354.4 595,355.6" fill="none" stroke="#0000ff" stroke-width="1" stroke-linejoin="round" stroke-linecap="butt" shape-rendering="crispEdges"/>
</g>
<g clip-path="url(#cs)">
<line x1="4" y1="388.5" x2="620" y2="388.5" stroke="#c0c0c0" stroke-width="1" stroke-dasharray="3,3" shape-rendering="crispEdges"/>
<line x1="4" y1="400.5" x2="620" y2="400.5" stroke="#c0c0c0" stroke-width="1" stroke-dasharray="3,3" shape-rendering="crispEdges"/>
<line x1="4" y1="419.5" x2="620" y2="419.5" stroke="#c0c0c0" stroke-width="1" stroke-dasharray="3,3" shape-rendering="crispEdges"/>
<line x1="4" y1="438.5" x2="620" y2="438.5" stroke="#c0c0c0" stroke-width="1" stroke-dasharray="3,3" shape-rendering="crispEdges"/>
<line x1="4" y1="450.5" x2="620" y2="450.5" stroke="#c0c0c0" stroke-width="1" stroke-dasharray="3,3" shape-rendering="crispEdges"/>
<polyline points="3,428.8 7.3,418 12,407 15.8,404.6 19.4,410.7 23,422.8 26.7,432.5 30.3,436 34,436.8 37.6,432.5 41.2,418 44.8,404.6 48.5,395 53.3,390 60.6,390 66.7,390 72.7,388.4 78.8,387.6 83.6,392.5 87.3,404.6 91,420.4 94.5,433.7 99.4,443.4 104.2,444.6 109,442.2 112.7,438.5 115.9,422.8 118.8,407 122.4,397.3 126,393.7 131,395 135.8,393.7 139.4,396 143,407 146.7,415.5 150.3,422.8 153.6,430 157.3,438.5 162,445.8 167,444.6 171.8,436 175.5,425.2 179,416.7 184,413.6 188.8,414.3 193.6,414.3 198.5,415.5 203.3,415 208.2,420.4 213,422.8 217.9,421.6 222.7,422.8 227.6,424 231.2,418 234.8,407 239.7,397.3 245.8,391.3 251.8,391.3 257.9,390 261.5,393.7 265,399.8 268.8,403.4 272.4,411.9 276,422.8 280.9,436 285.8,441 289.4,442.2 293,443.4 297.9,438.5 300,433.7 303.6,425.2 308.5,410.7 313.3,399.8 318.2,393.7 321.8,393.7 324.2,398.5 326.7,408.2 330.3,414.3 334,418 337.6,415.5 342.4,408.2 347.3,399.8 352,393.7 357,390.8 361.8,392.5 366.7,397.3 370.3,399.8 375,396 380,391.3 384.8,389.3 388.5,391.3 392,396 395,404.6 398,418 401.8,427.6 405.5,430 407.9,426.4 410.3,415.5 414,404.6 417.6,397.3 421.2,393.7 426,393.7 431,399.8 434.5,413 438,426.4 441.8,438.5 444.2,443.4 446.7,437.3 450.3,430 453.6,419 457.3,408.2 462,399.8 467,395.6 471.8,395 476.7,397.3 480.3,402.2 484,414.3 487.6,430 491.2,439.8 496,445.8 502,449 509.4,449.5 515.5,445.8 520.3,442.2 525,443.4 530,447.5 536,449 541,447 544.5,438.5 548.2,426.4 551.8,413 555.5,404.6 559,399.8 564,397.3 567.6,393.7 571.2,391.3 574.8,397.3 578.5,408.2 582,424 585.8,436 589.4,444 594.2,447.5" fill="none" stroke="#ff0000" stroke-width="1" stroke-linejoin="round" stroke-linecap="butt" stroke-dasharray="2.5,2.5" shape-rendering="crispEdges"/>
<polyline points="3,431.3 6,415.5 9.7,397.3 13.3,395 17,405.8 20.6,425.2 23.5,442.2 26.7,443.4 31.5,440.2 35,436 37.6,425.2 40,408.2 43,396 47.3,388.4 52,387 55.8,387.6 59.4,392.5 64.2,390.8 70.3,387.6 75,387 80,387.6 83.6,398.5 87.3,418 91,439.8 95.8,449.5 100.6,448.2 105.5,445.8 109,439.8 112,435 114.4,408.2 118.8,388.4 122.4,391.3 126,393.2 131,396.6 134.5,393.2 138.7,390.8 141,408.2 143.5,427.6 147.4,419 150.3,430 152.4,435 156,439.8 159.7,450 163.3,449.5 167,447 170.6,439.8 174.2,420.4 177,411.9 179.6,405.8 182.7,414.3 186.8,408.2 191.2,420.4 194.8,410.2 199.7,421.6 203.3,413.6 208.2,422.3 211.8,425.7 215.5,421.6 220.3,422.3 224,422.8 227.6,425.2 231.2,413 234.4,396 237.3,390.8 242,388.4 247,389.3 251.8,390.8 256.7,390 259.6,389.3 262.7,402.2 266.4,404.6 269.3,408.2 272.4,422.8 276,433.7 279.7,442.2 283.3,445 287,441 291.8,448.2 295.5,441 299,433.7 303.6,415.5 308.5,401 313.3,391.3 317,387.6 320.6,390 324.2,401 327,427 331,420.4 335,422.8 338.8,410.7 343.6,402.2 347.3,392.5 351,387.6 355.8,387.6 360.6,392.5 364.2,395 367.4,405.3 371.5,399.8 376.4,392.5 380,388.4 384.8,387.6 388.5,391.3 392,398.5 394.5,410.7 397,425.2 399.4,435 403,437.3 406.7,431.3 409,415.5 411.5,397.3 415,390 418.8,387.6 422.4,388.8 426,393.7 429.7,401 432,408.2 434.5,430 437,442.2 440.6,449 443.5,449 446.7,436 450.3,425.2 452.4,413 455.3,401 458.5,397.3 463.3,388.4 467,395 470.6,394.2 474.2,398.5 477,402.2 480.3,400.5 482.7,413 486.4,439.8 490.7,449.5 496,450 505.8,450 510.6,449.5 513,443.4 515.5,437.3 519,439.8 522.7,442.2 527.6,449 533.6,449 538.5,449 541.6,443.4 544.5,432.5 547,420.4 550.6,401 554.2,393.7 556.7,392.5 560.3,394.2 564,396.6 567.6,389.3 571.2,388.8 573.6,395 576,405.8 578.5,420.4 581,436 583.3,450 588.2,450 593,450" fill="none" stroke="#20b2aa" stroke-width="1" stroke-linejoin="round" stroke-linecap="butt" shape-rendering="crispEdges"/>
</g>
<g clip-path="url(#cd)">
<g shape-rendering="crispEdges">
<rect x="3" y="502" width="1" height="4" fill="#c0c0c0"/>
<rect x="7" y="502" width="1" height="4" fill="#c0c0c0"/>
<rect x="11" y="500" width="1" height="6" fill="#c0c0c0"/>
<rect x="15" y="500" width="1" height="6" fill="#c0c0c0"/>
<rect x="19" y="502" width="1" height="4" fill="#c0c0c0"/>
<rect x="23" y="503" width="1" height="3" fill="#c0c0c0"/>
<rect x="27" y="504" width="1" height="2" fill="#c0c0c0"/>
<rect x="31" y="505" width="1" height="1" fill="#c0c0c0"/>
<rect x="35" y="505" width="1" height="1" fill="#c0c0c0"/>
<rect x="39" y="505" width="1" height="1" fill="#c0c0c0"/>
<rect x="43" y="504" width="1" height="2" fill="#c0c0c0"/>
<rect x="47" y="503" width="1" height="3" fill="#c0c0c0"/>
<rect x="51" y="500" width="1" height="6" fill="#c0c0c0"/>
<rect x="55" y="498" width="1" height="8" fill="#c0c0c0"/>
<rect x="59" y="496" width="1" height="10" fill="#c0c0c0"/>
<rect x="63" y="492" width="1" height="14" fill="#c0c0c0"/>
<rect x="67" y="489" width="1" height="17" fill="#c0c0c0"/>
<rect x="71" y="486" width="1" height="20" fill="#c0c0c0"/>
<rect x="75" y="483" width="1" height="23" fill="#c0c0c0"/>
<rect x="79" y="478" width="1" height="28" fill="#c0c0c0"/>
<rect x="83" y="477" width="1" height="29" fill="#c0c0c0"/>
<rect x="87" y="477" width="1" height="29" fill="#c0c0c0"/>
<rect x="91" y="486" width="1" height="20" fill="#c0c0c0"/>
<rect x="95" y="490" width="1" height="16" fill="#c0c0c0"/>
<rect x="99" y="494" width="1" height="12" fill="#c0c0c0"/>
<rect x="103" y="498" width="1" height="8" fill="#c0c0c0"/>
<rect x="107" y="502" width="1" height="4" fill="#c0c0c0"/>
<rect x="111" y="503" width="1" height="3" fill="#c0c0c0"/>
<rect x="115" y="503" width="1" height="3" fill="#c0c0c0"/>
<rect x="119" y="504" width="1" height="2" fill="#c0c0c0"/>
<rect x="123" y="504" width="1" height="2" fill="#c0c0c0"/>
<rect x="127" y="504" width="1" height="2" fill="#c0c0c0"/>
<rect x="131" y="504" width="1" height="2" fill="#c0c0c0"/>
<rect x="135" y="503" width="1" height="3" fill="#c0c0c0"/>
<rect x="139" y="503" width="1" height="3" fill="#c0c0c0"/>
<rect x="143" y="504" width="1" height="2" fill="#c0c0c0"/>
<rect x="147" y="505" width="1" height="2" fill="#c0c0c0"/>
<rect x="151" y="505" width="1" height="4" fill="#c0c0c0"/>
<rect x="155" y="505" width="1" height="9" fill="#c0c0c0"/>
<rect x="159" y="505" width="1" height="17" fill="#c0c0c0"/>
<rect x="163" y="505" width="1" height="23" fill="#c0c0c0"/>
<rect x="167" y="505" width="1" height="26" fill="#c0c0c0"/>
<rect x="171" y="505" width="1" height="25" fill="#c0c0c0"/>
<rect x="175" y="505" width="1" height="25" fill="#c0c0c0"/>
<rect x="179" y="505" width="1" height="24" fill="#c0c0c0"/>
<rect x="183" y="505" width="1" height="24" fill="#c0c0c0"/>
<rect x="187" y="505" width="1" height="22" fill="#c0c0c0"/>
<rect x="191" y="505" width="1" height="22" fill="#c0c0c0"/>
<rect x="195" y="505" width="1" height="20" fill="#c0c0c0"/>
<rect x="199" y="505" width="1" height="18" fill="#c0c0c0"/>
<rect x="203" y="505" width="1" height="17" fill="#c0c0c0"/>
<rect x="207" y="505" width="1" height="16" fill="#c0c0c0"/>
<rect x="211" y="505" width="1" height="15" fill="#c0c0c0"/>
<rect x="215" y="505" width="1" height="15" fill="#c0c0c0"/>
<rect x="219" y="505" width="1" height="14" fill="#c0c0c0"/>
<rect x="223" y="505" width="1" height="13" fill="#c0c0c0"/>
<rect x="227" y="505" width="1" height="12" fill="#c0c0c0"/>
<rect x="231" y="505" width="1" height="11" fill="#c0c0c0"/>
<rect x="235" y="505" width="1" height="10" fill="#c0c0c0"/>
<rect x="239" y="505" width="1" height="9" fill="#c0c0c0"/>
<rect x="243" y="505" width="1" height="2" fill="#c0c0c0"/>
<rect x="247" y="502" width="1" height="4" fill="#c0c0c0"/>
<rect x="251" y="497" width="1" height="9" fill="#c0c0c0"/>
<rect x="255" y="494" width="1" height="12" fill="#c0c0c0"/>
<rect x="259" y="491" width="1" height="15" fill="#c0c0c0"/>
<rect x="263" y="491" width="1" height="15" fill="#c0c0c0"/>
<rect x="267" y="486" width="1" height="20" fill="#c0c0c0"/>
<rect x="271" y="487" width="1" height="19" fill="#c0c0c0"/>
<rect x="275" y="492" width="1" height="14" fill="#c0c0c0"/>
<rect x="279" y="494" width="1" height="12" fill="#c0c0c0"/>
<rect x="283" y="498" width="1" height="8" fill="#c0c0c0"/>
<rect x="287" y="501" width="1" height="5" fill="#c0c0c0"/>
<rect x="291" y="505" width="1" height="6" fill="#c0c0c0"/>
<rect x="295" y="505" width="1" height="10" fill="#c0c0c0"/>
<rect x="299" y="505" width="1" height="13" fill="#c0c0c0"/>
<rect x="303" y="505" width="1" height="13" fill="#c0c0c0"/>
<rect x="307" y="505" width="1" height="13" fill="#c0c0c0"/>
<rect x="311" y="505" width="1" height="12" fill="#c0c0c0"/>
<rect x="315" y="505" width="1" height="12" fill="#c0c0c0"/>
<rect x="319" y="505" width="1" height="10" fill="#c0c0c0"/>
<rect x="323" y="505" width="1" height="10" fill="#c0c0c0"/>
<rect x="327" y="505" width="1" height="9" fill="#c0c0c0"/>
<rect x="331" y="505" width="1" height="9" fill="#c0c0c0"/>
<rect x="335" y="505" width="1" height="9" fill="#c0c0c0"/>
<rect x="339" y="505" width="1" height="7" fill="#c0c0c0"/>
<rect x="343" y="505" width="1" height="5" fill="#c0c0c0"/>
<rect x="347" y="504" width="1" height="2" fill="#c0c0c0"/>
<rect x="351" y="499" width="1" height="7" fill="#c0c0c0"/>
<rect x="355" y="494" width="1" height="12" fill="#c0c0c0"/>
<rect x="359" y="491" width="1" height="15" fill="#c0c0c0"/>
<rect x="363" y="488" width="1" height="18" fill="#c0c0c0"/>
<rect x="367" y="486" width="1" height="20" fill="#c0c0c0"/>
<rect x="371" y="482" width="1" height="24" fill="#c0c0c0"/>
<rect x="375" y="478" width="1" height="28" fill="#c0c0c0"/>
<rect x="379" y="474" width="1" height="32" fill="#c0c0c0"/>
<rect x="383" y="470" width="1" height="36" fill="#c0c0c0"/>
<rect x="387" y="468" width="1" height="38" fill="#c0c0c0"/>
<rect x="391" y="468" width="1" height="38" fill="#c0c0c0"/>
<rect x="395" y="468" width="1" height="38" fill="#c0c0c0"/>
<rect x="399" y="470" width="1" height="36" fill="#c0c0c0"/>
<rect x="403" y="471" width="1" height="35" fill="#c0c0c0"/>
<rect x="407" y="471" width="1" height="35" fill="#c0c0c0"/>
<rect x="411" y="469" width="1" height="37" fill="#c0c0c0"/>
<rect x="415" y="464" width="1" height="42" fill="#c0c0c0"/>
<rect x="419" y="461" width="1" height="45" fill="#c0c0c0"/>
<rect x="423" y="459" width="1" height="47" fill="#c0c0c0"/>
<rect x="427" y="460" width="1" height="46" fill="#c0c0c0"/>
<rect x="431" y="460" width="1" height="46" fill="#c0c0c0"/>
<rect x="435" y="464" width="1" height="42" fill="#c0c0c0"/>
<rect x="439" y="466" width="1" height="40" fill="#c0c0c0"/>
<rect x="443" y="470" width="1" height="36" fill="#c0c0c0"/>
<rect x="447" y="472" width="1" height="34" fill="#c0c0c0"/>
<rect x="451" y="474" width="1" height="32" fill="#c0c0c0"/>
<rect x="455" y="475" width="1" height="31" fill="#c0c0c0"/>
<rect x="459" y="475" width="1" height="31" fill="#c0c0c0"/>
<rect x="463" y="472" width="1" height="34" fill="#c0c0c0"/>
<rect x="467" y="470" width="1" height="36" fill="#c0c0c0"/>
<rect x="471" y="469" width="1" height="37" fill="#c0c0c0"/>
<rect x="475" y="470" width="1" height="36" fill="#c0c0c0"/>
<rect x="479" y="471" width="1" height="35" fill="#c0c0c0"/>
<rect x="483" y="473" width="1" height="33" fill="#c0c0c0"/>
<rect x="487" y="476" width="1" height="30" fill="#c0c0c0"/>
<rect x="491" y="479" width="1" height="27" fill="#c0c0c0"/>
<rect x="495" y="482" width="1" height="24" fill="#c0c0c0"/>
<rect x="499" y="486" width="1" height="20" fill="#c0c0c0"/>
<rect x="503" y="489" width="1" height="17" fill="#c0c0c0"/>
<rect x="507" y="493" width="1" height="13" fill="#c0c0c0"/>
<rect x="511" y="498" width="1" height="8" fill="#c0c0c0"/>
<rect x="515" y="499" width="1" height="7" fill="#c0c0c0"/>
<rect x="519" y="505" width="1" height="1" fill="#c0c0c0"/>
<rect x="523" y="505" width="1" height="7" fill="#c0c0c0"/>
<rect x="527" y="505" width="1" height="12" fill="#c0c0c0"/>
<rect x="531" y="505" width="1" height="17" fill="#c0c0c0"/>
<rect x="535" y="505" width="1" height="24" fill="#c0c0c0"/>
<rect x="539" y="505" width="1" height="30" fill="#c0c0c0"/>
<rect x="543" y="505" width="1" height="30" fill="#c0c0c0"/>
<rect x="547" y="505" width="1" height="29" fill="#c0c0c0"/>
<rect x="551" y="505" width="1" height="28" fill="#c0c0c0"/>
<rect x="555" y="505" width="1" height="27" fill="#c0c0c0"/>
<rect x="559" y="505" width="1" height="25" fill="#c0c0c0"/>
<rect x="563" y="505" width="1" height="24" fill="#c0c0c0"/>
<rect x="567" y="505" width="1" height="24" fill="#c0c0c0"/>
<rect x="571" y="505" width="1" height="23" fill="#c0c0c0"/>
<rect x="575" y="505" width="1" height="22" fill="#c0c0c0"/>
<rect x="579" y="505" width="1" height="22" fill="#c0c0c0"/>
<rect x="583" y="505" width="1" height="22" fill="#c0c0c0"/>
<rect x="587" y="505" width="1" height="22" fill="#c0c0c0"/>
<rect x="591" y="505" width="1" height="23" fill="#c0c0c0"/>
<rect x="595" y="505" width="1" height="23" fill="#c0c0c0"/>
</g>
<polyline points="3,500 9.7,499.3 17,499.5 24.2,501 31.5,502.4 38.8,503 48.5,503.4 55.8,501.7 63,499.3 70.3,495.6 77.6,492 83.6,487 88.5,484 92,483 97,483 101.8,483.5 106.7,485.5 111.5,488.4 116.4,492 121.2,495.6 126,498.5 132,501.2 138,503 145.5,503.4 150,504 154.8,504.8 159.7,507.8 164.5,512 169.4,515.5 174.2,518.7 179,522.3 184,524.7 188.8,526.7 193.6,527.4 201,527.2 208.2,525.2 215.5,523.5 222.7,522.3 230,520.4 237.3,518.7 244.5,515.5 251.8,511.4 259,505.8 266.4,500.5 273.6,495 278.5,492 283.3,491.3 288.2,492 293,494.4 297.9,497.6 300,500.5 304.8,505.3 309.7,509.7 314.5,512.6 319.4,514.5 324.2,516 329,516.5 336.4,515.5 343.6,514.5 348.5,512.6 353.3,509.7 358.2,506.5 363,502.4 367.9,498.5 372.7,494.4 377.6,489.6 382.4,484.7 387.3,479.9 392,476.7 397,474.3 404.2,471 411.5,469.5 418.8,467.8 426,466 433.3,463.6 439.4,463 444.2,462.4 449,463.4 454.8,465.3 459.7,467 467,470.2 474.2,471 481.5,471.4 488.8,471.4 496,473.3 502,475 508.2,479.2 515.5,484.7 522.7,491.3 530,498.5 537.3,509 544.5,517 551.8,524.2 559,529.6 566.4,532 571.2,532 578.5,530 585.8,528.4 593,527.2 595,527.2" fill="none" stroke="#ff0000" stroke-width="1" stroke-linejoin="round" stroke-linecap="butt" shape-rendering="crispEdges"/>
</g>
<g shape-rendering="crispEdges">
<rect x="2" y="2" width="1" height="537" fill="#000"/>
<rect x="620" y="2" width="1" height="537" fill="#000"/>
<rect x="2" y="2" width="619" height="1" fill="#000"/>
<rect x="2" y="310" width="619" height="1" fill="#000"/>
<rect x="2" y="312" width="619" height="1" fill="#000"/>
<rect x="2" y="384" width="619" height="1" fill="#000"/>
<rect x="2" y="386" width="619" height="1" fill="#000"/>
<rect x="2" y="451" width="619" height="1" fill="#000"/>
<rect x="2" y="453" width="619" height="1" fill="#000"/>
<rect x="2" y="538" width="621" height="1" fill="#000"/>
<rect x="0" y="311" width="660" height="1" fill="#fff"/>
<rect x="0" y="385" width="660" height="1" fill="#fff"/>
<rect x="0" y="452" width="660" height="1" fill="#fff"/>
<rect x="621" y="5" width="2" height="1" fill="#000"/>
<rect x="621" y="38" width="2" height="1" fill="#000"/>
<rect x="621" y="72" width="2" height="1" fill="#000"/>
<rect x="621" y="105" width="2" height="1" fill="#000"/>
<rect x="621" y="139" width="2" height="1" fill="#000"/>
<rect x="621" y="172" width="2" height="1" fill="#000"/>
<rect x="621" y="206" width="2" height="1" fill="#000"/>
<rect x="621" y="239" width="2" height="1" fill="#000"/>
<rect x="621" y="273" width="2" height="1" fill="#000"/>
<rect x="621" y="306" width="2" height="1" fill="#000"/>
<rect x="621" y="314" width="2" height="1" fill="#000"/>
<rect x="621" y="388" width="2" height="1" fill="#000"/>
<rect x="621" y="450" width="2" height="1" fill="#000"/>
<rect x="621" y="455" width="2" height="1" fill="#000"/>
<rect x="621" y="505" width="2" height="1" fill="#000"/>
</g>
<text transform="translate(626,9) scale(0.9400,1.0000)" >56.85</text>
<text transform="translate(626,42) scale(0.9400,1.0000)" >56.00</text>
<text transform="translate(626,76) scale(0.9400,1.0000)" >55.10</text>
<text transform="translate(626,109) scale(0.9400,1.0000)" >54.25</text>
<text transform="translate(626,143) scale(0.9400,1.0000)" >53.35</text>
<text transform="translate(626,176) scale(0.9400,1.0000)" >52.50</text>
<text transform="translate(626,210) scale(0.9400,1.0000)" >51.60</text>
<text transform="translate(626,243) scale(0.9400,1.0000)" >50.75</text>
<text transform="translate(626,277) scale(0.9400,1.0000)" >49.85</text>
<text transform="translate(626,310) scale(0.9400,1.0000)" >49.00</text>
<g shape-rendering="crispEdges">
<rect x="622" y="59" width="31" height="11" fill="#ff0000"/>
<rect x="622" y="99" width="31" height="11" fill="#ff0000"/>
<rect x="622" y="130" width="31" height="11" fill="#ff0000"/>
<rect x="622" y="143" width="31" height="11" fill="#000"/>
<rect x="622" y="174" width="31" height="11" fill="#008000"/>
<rect x="622" y="194" width="31" height="11" fill="#008000"/>
</g>
<text transform="translate(626,68) scale(0.9400,1.0000)" class="w">55.29</text>
<text transform="translate(626,108) scale(0.9400,1.0000)" class="w">54.24</text>
<text transform="translate(626,139) scale(0.9400,1.0000)" class="w">53.43</text>
<text transform="translate(626,152) scale(0.9400,1.0000)" class="w">53.13</text>
<text transform="translate(626,183) scale(0.9400,1.0000)" class="w">52.29</text>
<text transform="translate(626,203) scale(0.9400,1.0000)" class="w">51.77</text>
<text transform="translate(624,323) scale(0.9400,1.0000)" >100</text>
<text transform="translate(624,338) scale(0.9400,1.0000)" >70</text>
<text transform="translate(624,366) scale(0.9400,1.0000)" >30</text>
<text transform="translate(624,381) scale(0.9400,1.0000)" >0</text>
<g clip-path="url(#ca)">
<text transform="translate(624,391) scale(0.9400,1.0000)" >100</text>
<text transform="translate(624,397) scale(0.9400,1.0000)" >100</text>
<text transform="translate(624,404) scale(0.9400,1.0000)" >80</text>
<text transform="translate(624,423) scale(0.9400,1.0000)" >50</text>
<text transform="translate(624,442) scale(0.9400,1.0000)" >20</text>
<text transform="translate(624,449) scale(0.9400,1.0000)" >0</text>
<text transform="translate(624,455) scale(0.9400,1.0000)" >0</text>
</g>
<text transform="translate(624,464) scale(0.9400,1.0000)" >0.441</text>
<text transform="translate(624,509) scale(0.9400,1.0000)" >0.00</text>
<text transform="translate(624,536) scale(0.9400,1.0000)" >-0.287</text>
<path d="M6,9 L13,9 L9.5,13 Z" fill="#000"/>
<text transform="translate(18,14) scale(0.9400,1.0000)" >WTI.fs,H1</text>
<text transform="translate(67.3,14) scale(0.9400,1.0000)" >53.18 53.21 53.05 53.13</text>
<text transform="translate(7,325) scale(0.9400,1.0000)" >RSI(14) 36.0652&#160; -&gt;MA(18) 41.1731</text>
<text transform="translate(7,399) scale(0.9400,1.0000)" >Stoch(5,3,3) 0.0000 3.7965</text>
<text transform="translate(7,467) scale(0.9400,1.0000)" >MACD(12,26,9) -0.190 -0.187</text>
<g shape-rendering="crispEdges">
<rect x="3" y="539" width="1" height="4" fill="#000"/>
<rect x="67" y="539" width="1" height="4" fill="#000"/>
<rect x="131" y="539" width="1" height="4" fill="#000"/>
<rect x="195" y="539" width="1" height="4" fill="#000"/>
<rect x="259" y="539" width="1" height="4" fill="#000"/>
<rect x="323" y="539" width="1" height="4" fill="#000"/>
<rect x="387" y="539" width="1" height="4" fill="#000"/>
<rect x="451" y="539" width="1" height="4" fill="#000"/>
<rect x="515" y="539" width="1" height="4" fill="#000"/>
<rect x="579" y="539" width="1" height="4" fill="#000"/>
</g>
<text transform="translate(3,552) scale(0.9400,1.0000)" >4 Oct 2019</text>
<text transform="translate(67,552) scale(0.9400,1.0000)" >7 Oct 14:00</text>
<text transform="translate(131,552) scale(0.9400,1.0000)" >8 Oct 07:00</text>
<text transform="translate(195,552) scale(0.9400,1.0000)" >8 Oct 23:00</text>
<text transform="translate(259,552) scale(0.9400,1.0000)" >9 Oct 16:00</text>
<text transform="translate(323,552) scale(0.9400,1.0000)" >10 Oct 09:00</text>
<text transform="translate(387,552) scale(0.9400,1.0000)" >11 Oct 02:00</text>
<text transform="translate(451,552) scale(0.9400,1.0000)" >11 Oct 18:00</text>
<text transform="translate(515,552) scale(0.9400,1.0000)" >14 Oct 11:00</text>
<text transform="translate(579,552) scale(0.9400,1.0000)" >15 Oct 04:00</text>
</svg></body></html>
